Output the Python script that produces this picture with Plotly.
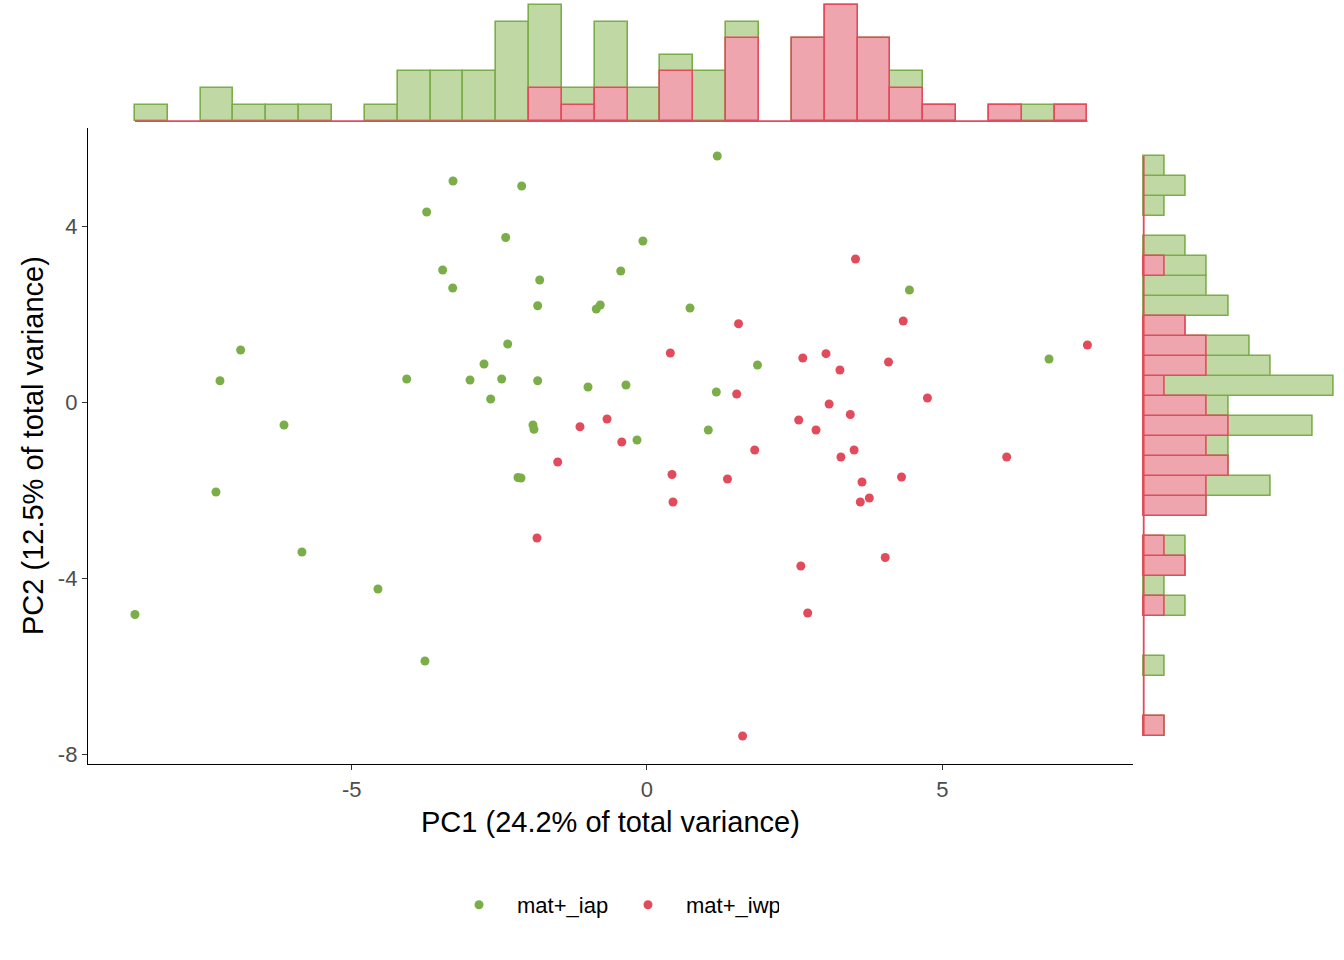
import plotly.graph_objects as go

W, H = 1344, 960

groups = ["mat+_iap", "mat+_iwp"]
line_colors = ["#7BAE48", "#E14B5C"]
fill_colors = ["#C0D8A3", "#EFA5AD"]

# PCA scores
iap_pc1 = [1.190, -3.285, -2.122, -3.731, -2.393, -0.069, -3.460, -0.444, -1.817, -3.290,
           4.444, -1.851, -0.859, -0.791, 0.728, -2.359, -6.881, 6.808, -2.760, 1.871,
           -7.231, -4.069, -2.997, -2.461, -1.851, -0.999, -0.356, 1.174, -2.647, -6.147,
           -1.931, -1.914, 1.038, -0.169, -2.185, -2.134, -7.299, -5.843, -4.556, -8.671,
           -3.760]
iap_pc2 = [5.598, 5.030, 4.916, 4.325, 3.745, 3.666, 3.007, 2.984, 2.780, 2.598,
           2.552, 2.195, 2.120, 2.211, 2.143, 1.325, 1.189, 0.984, 0.870, 0.848,
           0.491, 0.530, 0.507, 0.530, 0.491, 0.348, 0.393, 0.234, 0.075, -0.516,
           -0.516, -0.614, -0.630, -0.857, -1.709, -1.720, -2.039, -3.402, -4.243, -4.823,
           -5.880]
iwp_pc1 = [3.531, 1.550, 4.339, 0.395, 2.638, 3.031, 3.267, 4.090, 7.458, 1.519,
           4.749, 3.084, 3.443, -0.677, 2.569, 2.862, -1.135, -0.427, 1.824, 3.284,
           3.507, 6.091, 0.423, 1.363, 3.641, 4.310, 3.765, 3.612, 0.440, 4.034,
           2.605, 2.721, 1.619, -1.512, -1.863]
iwp_pc2 = [3.257, 1.786, 1.848, 1.120, 1.007, 1.105, 0.734, 0.916, 1.302, 0.189,
           0.098, -0.039, -0.277, -0.380, -0.402, -0.630, -0.555, -0.902, -1.084, -1.243,
           -1.084, -1.243, -1.641, -1.743, -1.811, -1.698, -2.175, -2.266, -2.266, -3.527,
           -3.720, -4.789, -7.584, -1.357, -3.084]

x_ticks = [-5, 0, 5]
y_ticks = [-8, -4, 0, 4]
x_ticktext = ["-5", "0", "5"]
y_ticktext = ["-8", "-4", "0", "4"]

x_all = iap_pc1 + iwp_pc1
y_all = iap_pc2 + iwp_pc2

# 29 bins spanning the data range, like the marginal histograms
nbins = 29
x_lo, x_hi = min(x_all), max(x_all)
y_lo, y_hi = min(y_all), max(y_all)
xbins = dict(start=x_lo, end=x_hi, size=(x_hi - x_lo) / nbins * 1.000001)
ybins = dict(start=y_lo, end=y_hi, size=(y_hi - y_lo) / nbins * 1.000001)

x_range = [-9.466, 8.230]
y_range = [-8.220, 6.234]

font = "Liberation Sans, Arial, sans-serif"


def fx(p):
    return p / W


def fy(p):
    return 1 - p / H


fig = go.Figure()

# main scatter
for name, xs, ys, c in [(groups[0], iap_pc1, iap_pc2, line_colors[0]),
                        (groups[1], iwp_pc1, iwp_pc2, line_colors[1])]:
    fig.add_trace(go.Scatter(
        x=xs, y=ys, mode="markers", name=name,
        marker=dict(color=c, size=9, line=dict(width=0)),
        xaxis="x", yaxis="y",
    ))

# top marginal: stacked look = total counts in green, iwp counts drawn over it
fig.add_trace(go.Histogram(
    x=x_all, xbins=xbins, autobinx=False,
    marker=dict(color=fill_colors[0], line=dict(color=line_colors[0], width=1.6)),
    xaxis="x2", yaxis="y2", showlegend=False, hoverinfo="skip",
))
fig.add_trace(go.Histogram(
    x=iwp_pc1, xbins=xbins, autobinx=False,
    marker=dict(color=fill_colors[1], line=dict(color=line_colors[1], width=1.6)),
    xaxis="x2", yaxis="y2", showlegend=False, hoverinfo="skip",
))
fig.add_trace(go.Scatter(
    x=[x_lo, x_hi], y=[0, 0], mode="lines",
    line=dict(color=line_colors[1], width=1.8),
    xaxis="x2", yaxis="y2", showlegend=False, hoverinfo="skip",
))

# right marginal
fig.add_trace(go.Histogram(
    y=y_all, ybins=ybins, autobiny=False, orientation="h",
    marker=dict(color=fill_colors[0], line=dict(color=line_colors[0], width=1.6)),
    xaxis="x3", yaxis="y3", showlegend=False, hoverinfo="skip",
))
fig.add_trace(go.Histogram(
    y=iwp_pc2, ybins=ybins, autobiny=False, orientation="h",
    marker=dict(color=fill_colors[1], line=dict(color=line_colors[1], width=1.6)),
    xaxis="x3", yaxis="y3", showlegend=False, hoverinfo="skip",
))
fig.add_trace(go.Scatter(
    x=[0, 0], y=[y_lo, y_hi], mode="lines",
    line=dict(color=line_colors[1], width=1.8),
    xaxis="x3", yaxis="y3", showlegend=False, hoverinfo="skip",
))

axis_common = dict(
    showline=True, linecolor="black", linewidth=1.4,
    ticks="outside", ticklen=5, tickwidth=1.1, tickcolor="#333333",
    tickfont=dict(size=22, color="#4D4D4D", family=font),
    showgrid=False, zeroline=False, automargin=False,
)

# marginal panels: base of the bars at px 121.1 (top) and 1143.7 (right),
# with a couple of pixels of room below the base so the base line is not clipped
top_unit, right_unit, pad = 16.58, 21.15, 3

fig.update_layout(
    width=W, height=H,
    margin=dict(l=0, r=0, t=0, b=0),
    paper_bgcolor="white", plot_bgcolor="white",
    barmode="overlay", bargap=0,
    font=dict(family=font, color="black"),
    xaxis=dict(domain=[fx(88), fx(1133)], range=x_range, anchor="y",
               tickvals=x_ticks, ticktext=x_ticktext, **axis_common),
    yaxis=dict(domain=[fy(764), fy(128)], range=y_range, anchor="x",
               tickvals=y_ticks, ticktext=y_ticktext, **axis_common),
    xaxis2=dict(domain=[fx(88), fx(1133)], range=x_range, anchor="y2", visible=False),
    yaxis2=dict(domain=[fy(121.1 + pad), 1], range=[-pad / top_unit, 7.3],
                anchor="x2", visible=False),
    xaxis3=dict(domain=[fx(1143.7 - pad), 1], range=[-pad / right_unit, 9.47],
                anchor="y3", visible=False),
    yaxis3=dict(domain=[fy(764), fy(128)], range=y_range, anchor="x3", visible=False),
    legend=dict(
        orientation="h", x=fx(441), y=fy(905), xanchor="left", yanchor="middle",
        font=dict(size=22, color="black", family=font),
        itemwidth=66, entrywidth=88, entrywidthmode="pixels",
        bgcolor="rgba(0,0,0,0)",
    ),
    annotations=[
        dict(text="PC1 (24.2% of total variance)", xref="paper", yref="paper",
             x=fx(610.5), y=fy(822), xanchor="center", yanchor="middle",
             showarrow=False, font=dict(size=29, color="black", family=font)),
        dict(text="PC2 (12.5% of total variance)", xref="paper", yref="paper",
             x=fx(33), y=fy(446), xanchor="center", yanchor="middle", textangle=-90,
             showarrow=False, font=dict(size=29, color="black", family=font)),
    ],
)

# drop the page's default body margin so the figure sits at the window corner
fig.write_html("out.html", config={"displayModeBar": False},
               post_script="document.body.style.margin = '0';")
